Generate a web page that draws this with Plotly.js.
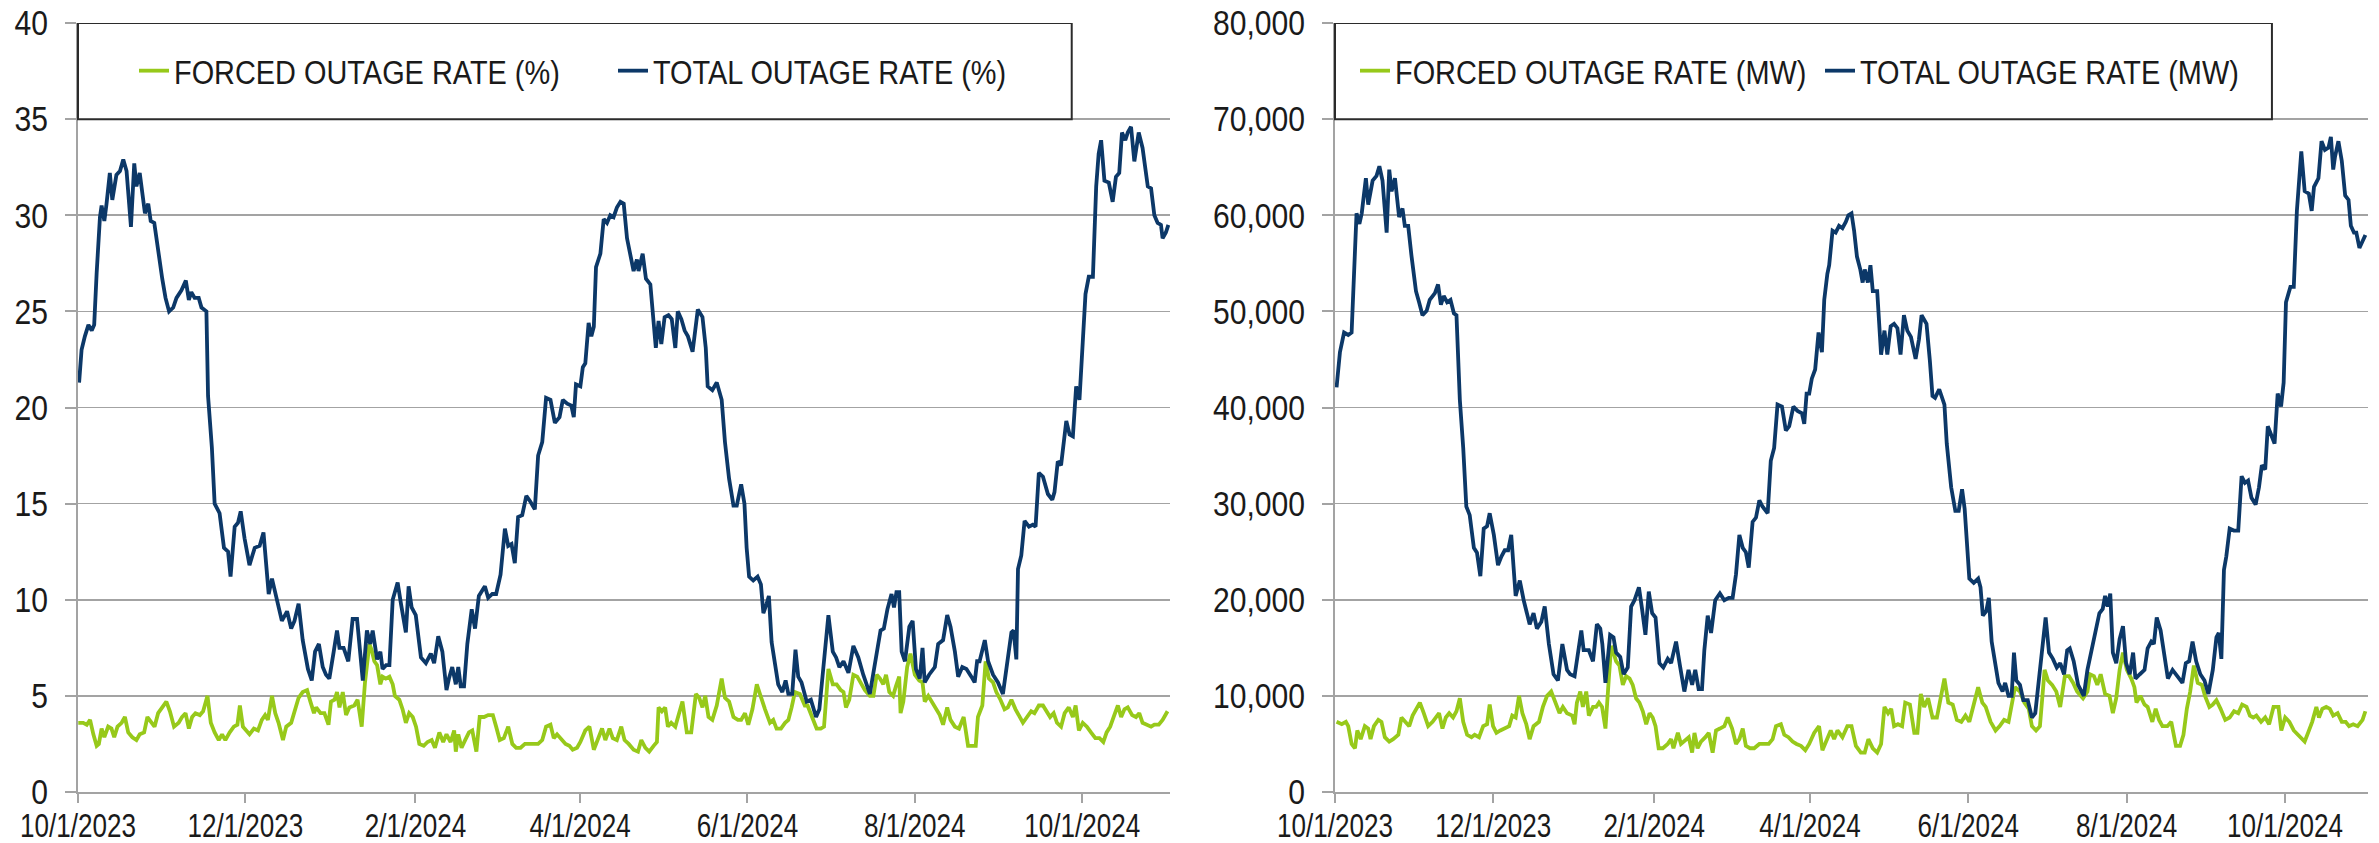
<!DOCTYPE html>
<html>
<head>
<meta charset="utf-8">
<script src="https://cdn.plot.ly/plotly-3.0.1.min.js"></script>
<style>
html,body{margin:0;padding:0;background:#fff;}
#chart{width:2379px;height:843px;}
</style>
</head>
<body>
<div id="chart"></div>
<script>
// Day offsets from 10/1/2023 paired with values
const START = '2023-10-01';
const tickDates = ['2023-10-01','2023-12-01','2024-02-01','2024-04-01','2024-06-01','2024-08-01','2024-10-01'];
const tickLabels = ['10/1/2023','12/1/2023','2/1/2024','4/1/2024','6/1/2024','8/1/2024','10/1/2024'];
const seriesNamesPct = ['FORCED OUTAGE RATE (%)','TOTAL OUTAGE RATE (%)'];
const seriesNamesMW = ['FORCED OUTAGE RATE (MW)','TOTAL OUTAGE RATE (MW)'];

const totalPct = [[0.4,21.3],[1.3,23.0],[2.5,23.7],[3.8,24.3],[5,24.0],[5.9,24.3],[6.8,27.0],[8,29.9],[8.6,30.5],[9.6,29.7],[10.4,30.6],[11.6,32.2],[12.5,30.8],[14,32.1],[15.3,32.3],[16.5,32.9],[17.7,32.3],[19.3,29.4],[20.5,32.7],[21.3,31.5],[22.5,32.2],[24.4,30.1],[25.6,30.6],[26.5,29.7],[27.8,29.6],[29.2,28.1],[30.7,26.7],[31.9,25.7],[33.2,25.0],[34.7,25.2],[35.9,25.7],[37.7,26.1],[39.3,26.6],[40.4,25.6],[41.3,26.0],[42.5,25.7],[44,25.7],[45,25.2],[46.8,25.0],[47.4,20.6],[48.8,17.9],[49.8,15.0],[51.6,14.5],[53.2,12.7],[54.7,12.5],[55.6,11.2],[57.1,13.8],[58.3,14.0],[59.3,14.6],[60.7,13.2],[62.5,11.8],[64.4,12.7],[66.2,12.8],[67.6,13.5],[69.5,10.3],[70.7,11.1],[72.2,10.1],[74.3,8.9],[76.2,9.4],[77.7,8.5],[78.9,8.9],[80.4,9.8],[81.9,7.9],[83.8,6.4],[85.2,5.8],[86.4,7.3],[87.8,7.7],[89.2,6.5],[90.4,6.1],[91.6,5.9],[93.2,7.3],[94.4,8.4],[95.3,7.5],[96.8,7.5],[98.5,6.8],[100.1,9.0],[101.7,9.0],[102.5,7.9],[103.8,5.8],[105.3,8.4],[106.5,7.7],[107.4,8.4],[109,6.9],[110.2,7.3],[111,6.4],[112.3,6.6],[113.5,6.6],[114.7,10.0],[116.5,10.9],[117.7,9.8],[119.5,8.3],[120.5,10.7],[121.6,9.6],[123.1,9.2],[125,7.0],[126.8,6.7],[128.6,7.2],[129.8,6.7],[131.3,8.1],[132.8,7.3],[134.3,5.3],[135.2,5.9],[136.4,6.5],[137.7,5.6],[138.6,6.5],[139.5,5.5],[140.7,5.5],[141.9,7.7],[143.5,9.5],[144.7,8.5],[146.1,10.2],[148.3,10.7],[149.5,10.1],[151,10.3],[152.4,10.3],[154,11.3],[155.6,13.7],[156.8,12.8],[158,12.9],[159.2,11.9],[160.4,14.3],[161.9,14.4],[163.4,15.4],[164.9,15.1],[166.5,14.7],[167.7,17.5],[169.2,18.2],[170.6,20.5],[172.2,20.4],[173.8,19.2],[175.5,19.5],[176.7,20.4],[178.3,20.2],[179.8,20.1],[180.7,19.5],[181.5,21.2],[183.1,21.1],[184,22.1],[184.9,22.3],[186.1,24.4],[187.1,23.7],[188,24.2],[188.8,27.3],[190.4,28.0],[191.6,29.8],[192.8,29.6],[194,30.0],[195.2,29.9],[196.4,30.4],[197.7,30.7],[198.9,30.6],[200.1,28.8],[201.3,28.0],[202.5,27.1],[203.7,27.7],[204.3,27.1],[205.8,28.0],[207,26.7],[208.6,26.4],[209.8,24.3],[210.6,23.1],[211.6,24.5],[212.6,23.3],[213.8,24.7],[215.2,24.8],[216.4,24.6],[217.7,23.1],[218.6,25.0],[219.9,24.6],[221.1,24.0],[222.3,23.7],[224,22.9],[225.9,25.1],[227.6,24.7],[228.8,23.1],[229.5,21.1],[231.2,20.9],[232.8,21.3],[234.6,20.4],[235.8,18.2],[237.3,16.3],[238.9,14.9],[240.1,14.9],[241.7,16.0],[242.9,15.0],[243.7,12.7],[244.6,11.2],[246.1,11.0],[247.7,11.2],[248.9,10.8],[249.8,9.3],[251,9.8],[251.8,10.2],[252.8,7.8],[254,6.7],[255.2,5.6],[256.7,5.2],[257.9,5.8],[258.9,5.1],[260.3,5.1],[261.5,7.4],[262.5,6.0],[263.7,5.7],[265.6,4.7],[267.1,4.8],[269,3.9],[270.2,4.3],[271.7,6.6],[273.5,9.2],[275.1,7.3],[276.3,7.0],[277.5,6.5],[279,6.8],[280.8,6.2],[282.6,7.6],[284.4,7.0],[286.2,6.1],[288.6,5.1],[290.5,6.8],[292.5,8.4],[293.7,8.5],[295,9.5],[296.5,10.3],[297.4,9.6],[298.3,10.4],[299.3,10.4],[300.2,7.3],[301.4,6.8],[303,8.6],[304.2,8.9],[305.4,6.4],[306.8,5.9],[307.8,7.5],[308.6,5.7],[310.2,6.1],[312.3,6.5],[313.5,7.7],[315.3,7.9],[316.8,9.2],[318,8.6],[319.6,7.3],[320.8,6.0],[322.3,6.5],[323.8,6.4],[325.6,6.0],[326.8,5.7],[327.7,6.8],[328.6,6.8],[330.5,7.9],[331.7,6.8],[333.5,6.1],[335.3,5.7],[337.1,5.1],[338.6,6.6],[340.2,8.3],[341,8.4],[342,6.9],[342.6,11.6],[343.8,12.3],[345,14.1],[346.6,13.8],[348,13.9],[349,13.8],[350.2,16.6],[351.7,16.4],[353.5,15.5],[355.1,15.2],[355.9,15.6],[357.1,17.2],[358.3,17.0],[360.2,19.3],[361.4,18.6],[362.6,18.5],[363.8,21.1],[365,20.4],[366.2,23.4],[367.2,25.9],[368.4,26.8],[369.9,26.8],[371.1,31.5],[372,33.2],[372.9,33.9],[374.1,31.8],[375.7,31.7],[377.1,30.7],[378.3,32.0],[379.5,32.2],[380.5,34.3],[381.7,33.9],[382.6,34.3],[383.8,34.6],[385,32.8],[386.6,34.3],[388,33.5],[389.9,31.5],[391.1,31.4],[392.3,30.0],[393.5,29.6],[394.7,29.5],[395.3,28.8],[396.5,29.1],[397.4,29.5]];

const forcedPct = [[0.1,3.6],[1.9,3.6],[3.2,3.5],[4.4,3.75],[5.6,3.0],[6.8,2.4],[7.6,2.5],[8.6,3.3],[9.6,2.85],[11,3.4],[12.2,3.3],[13.2,2.85],[14.4,3.4],[15.9,3.6],[17.1,3.9],[18.3,3.1],[19.8,2.85],[21.3,2.7],[22.5,3.0],[24.1,3.1],[25.3,3.9],[26.7,3.6],[27.9,3.4],[29.2,4.1],[30.7,4.4],[32.2,4.7],[33.5,4.2],[35,3.4],[36.7,3.6],[37.9,3.9],[39.2,4.1],[40.4,3.3],[41.6,3.9],[42.8,4.1],[44.4,4.0],[45.6,4.2],[47.2,5.0],[48.4,3.6],[49.8,3.1],[51.3,2.7],[52.5,3.0],[53.7,2.7],[55.3,3.1],[56.8,3.4],[58.1,3.5],[59,4.5],[60.1,3.4],[61.3,3.2],[62.5,3.0],[64.1,3.3],[65.6,3.2],[67,3.75],[68.2,4.0],[69.2,3.75],[70.7,5.0],[71.9,4.1],[73.1,3.6],[74.7,2.7],[75.9,3.4],[77.7,3.6],[79.2,4.4],[80.4,4.9],[81.9,5.2],[83.5,5.3],[84.7,4.7],[86,4.1],[86.8,4.4],[88.4,4.1],[89.8,4.1],[91.3,3.5],[92.2,4.7],[93.5,4.8],[94.4,5.2],[95.3,4.4],[96.5,5.2],[97.7,4.0],[98.9,4.4],[100.7,4.5],[101.9,4.8],[103.4,3.4],[104.6,5.7],[106.2,7.7],[107,7.4],[108,6.8],[109,6.6],[110.2,5.6],[111,6.0],[112.2,5.9],[113.5,6.0],[114.7,5.6],[115.5,5.0],[117.1,4.8],[118.3,4.3],[119.5,3.6],[120.7,4.1],[122,3.9],[123.2,3.4],[124.4,2.5],[126,2.4],[127.4,2.6],[128.9,2.7],[130.1,2.3],[131.7,3.1],[133.1,2.6],[134.3,3.0],[135.8,2.6],[137.1,3.2],[137.7,2.1],[138.6,3.0],[139.8,2.3],[141.1,2.7],[142.5,3.1],[143.7,3.2],[145.2,2.1],[146.4,3.9],[148,3.9],[149.5,4.0],[151.2,4.0],[152.4,3.4],[153.7,2.7],[155.2,2.8],[156.8,3.4],[158.3,2.5],[159.7,2.3],[161.3,2.3],[162.9,2.5],[164.6,2.5],[166.1,2.5],[167.7,2.5],[169.2,2.7],[170.6,3.4],[172.2,3.5],[173.4,2.8],[174.6,3.0],[176.2,2.7],[177.7,2.5],[179.1,2.4],[180.3,2.2],[181.9,2.3],[183.1,2.6],[184.9,3.2],[186.4,3.4],[188,2.2],[189.5,2.7],[191,3.3],[192.2,2.7],[193.7,3.3],[194.9,2.8],[196.4,2.7],[198,3.4],[199.2,2.7],[200.7,2.5],[202.5,2.2],[204.1,2.1],[205.3,2.7],[206.8,2.3],[208.2,2.1],[209.8,2.4],[211,2.6],[211.6,4.4],[212.8,4.2],[214,4.4],[215,3.4],[216.2,3.6],[217.7,3.4],[218.9,4.0],[220.3,4.7],[221.9,3.1],[223.5,3.1],[225.2,5.1],[226.4,4.9],[227.6,4.4],[228.6,5.0],[229.8,3.9],[231.2,3.75],[232.8,4.5],[234.6,5.9],[235.8,4.9],[237.3,4.7],[238.9,3.9],[240.5,3.75],[241.7,3.75],[243.1,4.1],[244.3,3.5],[245.8,4.3],[247.4,5.6],[248.9,4.9],[250.4,4.3],[252.2,3.6],[253.4,3.75],[254.6,3.3],[256.2,3.3],[257.7,3.6],[258.9,3.75],[260.1,4.4],[261.3,5.2],[263.1,5.1],[264.9,4.5],[265.9,4.5],[267.4,4.0],[269.2,3.3],[270.7,3.3],[271.9,3.4],[273.5,6.4],[275.1,5.6],[276.5,5.6],[278,5.3],[279,5.2],[279.9,4.4],[281.1,4.8],[282.6,6.1],[284,6.0],[285.2,5.7],[286.8,5.3],[288.6,5.0],[289.9,5.0],[291.1,6.1],[292.3,5.9],[293.5,5.6],[294.5,6.1],[295.7,5.2],[297.1,5.0],[298.1,5.5],[299.3,6.0],[299.8,4.1],[300.8,4.7],[302.2,6.5],[303.4,7.2],[305,6.1],[306.6,5.8],[307.8,5.7],[308.6,4.7],[309.9,5.0],[311.1,4.7],[312.6,4.4],[314.1,4.0],[315.3,3.5],[316.8,4.4],[318,3.75],[319.6,3.4],[321.1,3.3],[322.8,3.9],[324.4,2.4],[325.6,2.4],[327.2,2.4],[328,3.9],[329.6,4.5],[330.8,6.8],[332,5.9],[333.5,5.7],[334.7,5.2],[336.2,4.8],[337.7,4.3],[338.9,4.4],[340.2,4.8],[341.7,4.3],[343.2,3.9],[344.4,3.6],[345.9,3.9],[347.4,4.2],[348.6,4.1],[350.2,4.5],[351.7,4.5],[353.1,4.2],[354.3,3.9],[355.6,4.1],[356.8,3.6],[358.3,3.4],[359.6,4.1],[361.1,4.4],[362.6,3.9],[363.6,4.5],[364.8,3.2],[366.2,3.6],[367.7,3.4],[369.2,3.1],[370.8,2.8],[372.3,2.8],[373.7,2.6],[374.9,3.1],[376.2,3.4],[377.7,4.0],[379,4.5],[380.2,3.9],[381.4,4.3],[382.6,4.4],[384.2,4.0],[385.6,3.9],[386.8,4.1],[388,3.6],[389.5,3.5],[391.1,3.4],[392.3,3.5],[393.9,3.5],[395.3,3.75],[397.1,4.2]];

const totalMW = [[0.6,42100],[1.9,45750],[3.5,47800],[5.1,47550],[6.4,47800],[7.3,53000],[8.3,60200],[9.4,59100],[10.3,60200],[11.9,63850],[12.8,61100],[14.5,63600],[16,64100],[17.1,65100],[18.3,63600],[19.9,58200],[20.9,64750],[21.8,62500],[23.1,63850],[24.7,59800],[26,60700],[26.9,58900],[28.2,58900],[29.5,55700],[31.2,52100],[32.4,50950],[33.7,49600],[35.3,50050],[36.5,51200],[38.5,51900],[39.7,52800],[40.8,50700],[41.9,51600],[43.2,50950],[44.5,51200],[45.8,49800],[46.8,49600],[48.1,40800],[49.4,35800],[50.6,29700],[51.9,28800],[53.5,25400],[54.7,24900],[56,22450],[57.3,27400],[58.6,27650],[59.6,29000],[61.2,26750],[62.8,23600],[64.1,24500],[65.4,25150],[66.7,25150],[67.9,26750],[69.6,20400],[71.2,22000],[72.7,19950],[75,17450],[76.5,18600],[77.8,17000],[79.5,17700],[80.8,19300],[82.4,15400],[84.2,12250],[85.9,11600],[87.6,15400],[89.4,12700],[90.6,12250],[92.3,12050],[93.6,14300],[94.9,16800],[95.8,14750],[97.8,14750],[99.4,13600],[100.9,17450],[102.2,17000],[103,15400],[104.2,11350],[106,16350],[107.3,16100],[108.3,14500],[109.9,14050],[111.2,12250],[112.8,12950],[114.1,19300],[115.4,19950],[117.1,21300],[118.3,19050],[119.6,16350],[120.9,20850],[122.2,18600],[123.5,18150],[125,13400],[126.5,12950],[128.2,13850],[129.5,13400],[131.4,15650],[132.9,13150],[134.6,10450],[136.2,12700],[137.6,11150],[138.8,12700],[140.1,10700],[141.4,10700],[142.3,14750],[143.6,18350],[144.9,16550],[146.5,19950],[148.3,20650],[150,19950],[151.7,20200],[153.2,20200],[154.5,22650],[155.8,26750],[157.1,25400],[158.3,24950],[159.4,23350],[160.9,28100],[162.2,28550],[163.5,30350],[164.7,29700],[166.7,29000],[167.9,34450],[169.2,35800],[170.5,40300],[172.2,40100],[173.7,37600],[175,38050],[176.6,40100],[178.2,39650],[179.9,39400],[180.8,38300],[181.7,41450],[182.7,41450],[183.7,43000],[185,43950],[186.3,47800],[187.6,45750],[188.5,51200],[189.7,53900],[190.4,54800],[191.7,58400],[192.9,58200],[194.2,58900],[195.5,58650],[196.8,59300],[197.8,60000],[199,60200],[200,58400],[201.1,55700],[202.4,54350],[203.3,53000],[204.1,54350],[205.3,53000],[206.3,54800],[207.2,52100],[208.9,52100],[210.4,45500],[211.7,48000],[212.8,45500],[214.1,48450],[215.4,48700],[216.7,48250],[217.9,45500],[219.2,49600],[220.5,48000],[221.9,47350],[223.7,45050],[225,47100],[226,49600],[227.9,48700],[229.2,44850],[230.2,41200],[231.2,41000],[232.8,41900],[234.8,40300],[235.7,36250],[237.4,31700],[239,29250],[240.3,29250],[241.6,31500],[242.6,29450],[243.5,25400],[244.4,22200],[246.1,21750],[247.8,22200],[248.7,21300],[249.6,18350],[250.9,18800],[251.9,20200],[253,15650],[254.2,13850],[255.6,11350],[257.2,10450],[258.2,11350],[259.5,10000],[260.7,10000],[261.6,14500],[262.5,11600],[263.9,11150],[265.2,9550],[266.9,9550],[268.5,7750],[269.8,8200],[271.1,11350],[272.7,15400],[273.8,18150],[275.1,14500],[276.6,13850],[278.1,12950],[279.4,13400],[280.9,12250],[282.1,14750],[283.1,14950],[284.6,13600],[286.3,11150],[288.5,10000],[289.9,12700],[291.9,15200],[293.2,16800],[294.5,18600],[295.8,19050],[296.7,20400],[297.7,19300],[298.7,20650],[299.7,14500],[301,13400],[302.3,15900],[303.6,17250],[304.8,13400],[306.2,12250],[307.5,14500],[308.4,11800],[310.1,12250],[311.9,12700],[313.1,14950],[314.5,15650],[315.5,15400],[316.6,18150],[318.1,16800],[319.7,14050],[320.9,11800],[322.7,12700],[324.6,12050],[326.5,11350],[327.8,13400],[329.1,13600],[330.4,15650],[331.8,13600],[333.4,12250],[335,11600],[336.5,10200],[338.2,12700],[339.6,16100],[340.5,16550],[341.5,13850],[342.5,23100],[343.4,24500],[344.7,27400],[346.3,27200],[348,27200],[349.3,32850],[350.6,32150],[351.8,32400],[353.1,30600],[354.7,29900],[356,31700],[357.1,34000],[358.4,33550],[359.4,38050],[360.7,37150],[362,36250],[363.2,41450],[364.5,40100],[365.5,42600],[366.4,50950],[368.1,52550],[369.4,52550],[370.6,60450],[372.3,66650],[373.6,62500],[375.2,62250],[376.3,60450],[377.2,62950],[378.9,63850],[380.1,67700],[381.4,66800],[382.8,67050],[383.7,68150],[384.6,64750],[385.3,66100],[386.6,67700],[387.9,65650],[389.2,62050],[390.5,61600],[391.4,58900],[392.6,58200],[393.5,58200],[394.7,56600],[395.8,57300],[397,57950]];

const forcedMW = [[0.6,7300],[2.6,7050],[4.2,7300],[5.1,6850],[6.4,5000],[7.7,4550],[8.6,6400],[9.9,5500],[11.5,6850],[12.8,6600],[13.7,5500],[15,6850],[16.7,7500],[17.9,7300],[19.2,5700],[20.9,5250],[22.4,5500],[24.4,5950],[25.6,7750],[27.3,7300],[28.6,6850],[29.9,7950],[31.2,8650],[32.7,9300],[34.2,8200],[35.9,6850],[37.6,7300],[38.8,7750],[40.1,8200],[41.4,6600],[42.7,7750],[44,8200],[45.5,7750],[46.8,8400],[48.1,9750],[49.4,7300],[50.9,5950],[52.6,5700],[53.8,5950],[55.5,5700],[57.1,6850],[58.6,7050],[59.6,9100],[60.9,6850],[62.2,6150],[63.7,6400],[65.4,6600],[67.1,6850],[68.3,7950],[69.6,7750],[70.9,10000],[72.2,8200],[73.7,7050],[75,5500],[76.5,6850],[78.6,7300],[80.1,8850],[81.7,10000],[83.3,10450],[85,9300],[86.5,8200],[87.8,8850],[89.4,8200],[91.4,7950],[92.3,7050],[93.2,9300],[94.5,10450],[95.5,8850],[96.8,10450],[97.8,7950],[99.4,8850],[100.6,8850],[101.7,9300],[102.9,8850],[104.2,6600],[105.5,11800],[106.4,15200],[107.3,14500],[108.3,13600],[109.6,13150],[110.9,11150],[112.2,12050],[113.5,11800],[114.7,11150],[116,9750],[117.3,9300],[118.6,8400],[119.9,7050],[121.2,8200],[122.4,7750],[123.5,6850],[124.7,4550],[126.3,4550],[128.2,5000],[129.5,5500],[130.4,4550],[132.1,6150],[133.3,5000],[134.6,5250],[136.3,5700],[137.6,4100],[138.5,6150],[139.7,4550],[141,5250],[142.7,5700],[144,6150],[145.5,4100],[146.8,6400],[148.3,6600],[150,6850],[151.3,7750],[153,6600],[154.5,5000],[155.8,5500],[157.1,6600],[158.3,4800],[159.9,4550],[161.5,4550],[163.5,5000],[165.4,5000],[167.1,5000],[168.6,5500],[169.9,6850],[171.8,7050],[173.1,5950],[174.7,5700],[176.3,5250],[177.8,5000],[179.5,4800],[181.2,4350],[182.7,5000],[184.6,6150],[186.5,6850],[187.8,4350],[189.4,5500],[191,6400],[192.3,5500],[193.6,6400],[195.5,5700],[197.4,6850],[199,6850],[200.7,4800],[202.6,4100],[204.1,4100],[205.5,5500],[207.2,4550],[208.9,4100],[210.4,5000],[211.7,8850],[213.1,8200],[214.3,8650],[215.4,6850],[216.9,7050],[218.5,6850],[219.7,9300],[221.5,9100],[223.2,6150],[224.4,6150],[225.7,10200],[227,8850],[228.5,9750],[230.2,7750],[231.9,7750],[233.1,9300],[234.8,11800],[236.3,9300],[238,9100],[239.6,7500],[241.3,7300],[242.9,7950],[244.4,7300],[246.1,9100],[247.8,10900],[249.4,9300],[250.7,8850],[252.6,7300],[254.5,6400],[256.1,6850],[257.8,7500],[259.5,7300],[260.7,9300],[262,10900],[263.9,10450],[265.6,9300],[267.3,8650],[268.5,6850],[270.1,6400],[271.6,6850],[273.4,12700],[274.7,11600],[276.3,11150],[277.9,10450],[279.4,8850],[281.2,12050],[282.8,12050],[284.4,11350],[285.9,10450],[288.2,9750],[289.9,10450],[290.9,12250],[292.4,12050],[293.7,11150],[295,12250],[296.7,10200],[298.4,10000],[299.7,8200],[301,9750],[302.3,12700],[303.6,14500],[305.1,12700],[306.8,11800],[308,10900],[308.8,9300],[310.3,10000],[311.9,9100],[313.1,8850],[314.9,7300],[316.2,8650],[317.5,7500],[318.8,6850],[320.7,6850],[322.2,7300],[324,4800],[325.6,4800],[326.9,5950],[328.2,8650],[329.5,10450],[330.9,13150],[332.4,11350],[334,11150],[335.2,10000],[336.9,8850],[338.2,9100],[339.6,9550],[341.2,8650],[343,7500],[344.7,7750],[346.4,8400],[348,8200],[349.5,9100],[351.2,8850],[352.5,7950],[353.8,7750],[355,7950],[356.8,7300],[358.4,7750],[359.9,7050],[361.6,8850],[363.5,8850],[364.6,6400],[366.1,7750],[367.7,7300],[369.4,6400],[371,5950],[372.3,5700],[373.6,5250],[374.9,6150],[376.5,7300],[378.1,8850],[379.1,7750],[380.4,8650],[381.9,8850],[383.3,8650],[384.6,7950],[386.3,8200],[387.9,7300],[389.4,7300],[390.7,6850],[392.3,7050],[394,6850],[395.9,7500],[397,8400]];

const GREEN = '#97c91a';
const BLUE = '#0c3868';
const FONT = "'Liberation Sans Narrow', 'Arial Narrow', 'Liberation Sans', Arial, sans-serif";

const startMs = Date.parse(START + 'T00:00:00Z');
function toDate(d){ return new Date(startMs + d*86400000).toISOString().slice(0,19).replace('T',' '); }
function xs(arr){ return arr.map(p => toDate(p[0])); }
function ys(arr){ return arr.map(p => p[1]); }

const lineW = 3.8;
const traces = [
  {x: xs(forcedPct), y: ys(forcedPct), name: seriesNamesPct[0], type:'scatter', mode:'lines', line:{color:GREEN, width:lineW}, xaxis:'x', yaxis:'y', legend:'legend'},
  {x: xs(totalPct), y: ys(totalPct), name: seriesNamesPct[1], type:'scatter', mode:'lines', line:{color:BLUE, width:lineW}, xaxis:'x', yaxis:'y', legend:'legend'},
  {x: xs(forcedMW), y: ys(forcedMW), name: seriesNamesMW[0], type:'scatter', mode:'lines', line:{color:GREEN, width:lineW}, xaxis:'x2', yaxis:'y2', legend:'legend2'},
  {x: xs(totalMW), y: ys(totalMW), name: seriesNamesMW[1], type:'scatter', mode:'lines', line:{color:BLUE, width:lineW}, xaxis:'x2', yaxis:'y2', legend:'legend2'}
];

const W = 2379, H = 843;
const mL = 78, mR = 11, mT = 23, mB = 51;
const paperW = W - mL - mR;
const leftEnd = (1170 - mL) / paperW;
const rightStart = (1335 - mL) / paperW;

const gridC = '#a3a3a3';
const axisC = '#a3a3a3';
const yTickFont = {family: FONT, size: 35, color: '#1a1a1a'};
const xTickFont = {family: FONT, size: 33, color: '#1a1a1a'};

function xAxis(domain, anchor){
  return {
    domain: domain, anchor: anchor, type:'date',
    range: [START, '2024-11-02'],
    tickmode:'array', tickvals: tickDates, ticktext: tickLabels, tickangle: 0,
    ticks:'outside', ticklen: 9, tickwidth: 2, tickcolor: axisC,
    showline:true, linecolor: axisC, linewidth: 2,
    showgrid:false, zeroline:false,
    tickfont: xTickFont, ticklabelstandoff: -6
  };
}
function yAxis(range, dtick, anchor, fmt, standoff){
  return {
    anchor: anchor, range: range, dtick: dtick, tick0: 0,
    tickformat: fmt,
    ticks:'outside', ticklen: 11, tickwidth: 2, tickcolor: axisC,
    showline:true, linecolor: axisC, linewidth: 2,
    showgrid:true, gridcolor: gridC, gridwidth: 1.6,
    zeroline:false, tickfont: yTickFont, ticklabelstandoff: standoff
  };
}

const legFont = {family: FONT, size: 34, color: '#1a1a1a'};
const layout = {
  width: W, height: H,
  margin: {l: mL, r: mR, t: mT, b: mB, pad: 0},
  paper_bgcolor: '#ffffff', plot_bgcolor: '#ffffff',
  showlegend: true,
  xaxis: xAxis([0, leftEnd], 'y'),
  yaxis: yAxis([0, 40], 5, 'x', '', 10),
  xaxis2: xAxis([rightStart, 1], 'y2'),
  yaxis2: yAxis([0, 80000], 10000, 'x2', ',d', 10),
  legend: {orientation:'h', x: (134 - mL)/paperW, xanchor:'left', y: 0.9375, yanchor:'middle',
           bgcolor:'rgba(0,0,0,0)', borderwidth:0, font: legFont, entrywidth: 434, entrywidthmode:'pixels', itemwidth: 30, traceorder:'normal'},
  legend2: {orientation:'h', x: (1355 - mL)/paperW, xanchor:'left', y: 0.9375, yanchor:'middle',
           bgcolor:'rgba(0,0,0,0)', borderwidth:0, font: legFont, entrywidth: 420, entrywidthmode:'pixels', itemwidth: 30, traceorder:'normal'},
  shapes: [
    {type:'rect', xref:'x domain', yref:'y', x0:0, x1:0.910, y0:35, y1:40, line:{color:'#2b2b2b', width:2}, fillcolor:'#ffffff', layer:'above'},
    {type:'rect', xref:'x2 domain', yref:'y2', x0:0, x1:0.907, y0:70000, y1:80000, line:{color:'#2b2b2b', width:2}, fillcolor:'#ffffff', layer:'above'}
  ]
};

// The reference uses a narrow sans face; condense the real SVG text horizontally
// about its own anchor point so positions stay where Plotly put them.
const legendNames = seriesNamesPct.concat(seriesNamesMW);
function squeezeEl(t, r){
  const x = parseFloat(t.getAttribute('x')) || 0;
  const suffix = 'translate(' + x + ',0) scale(' + r + ',1) translate(' + (-x) + ',0)';
  const tr = t.getAttribute('transform') || '';
  if (tr.endsWith(suffix)) return;
  t.setAttribute('transform', (tr ? tr + ' ' : '') + suffix);
}
function squeezeAll(){
  document.querySelectorAll('.xtick text, .x2tick text').forEach(t => squeezeEl(t, 0.79));
  document.querySelectorAll('.ytick text, .y2tick text').forEach(t => squeezeEl(t, 0.86));
  document.querySelectorAll('svg text').forEach(t => {
    if (legendNames.indexOf(t.textContent.trim()) >= 0) squeezeEl(t, 0.85);
  });
}

const gd = document.getElementById('chart');
Plotly.newPlot(gd, traces, layout, {displayModeBar:false, staticPlot:true}).then(() => {
  squeezeAll();
  gd.on('plotly_afterplot', squeezeAll);
  setTimeout(squeezeAll, 50);
  setTimeout(squeezeAll, 300);
});
</script>
</body>
</html>
